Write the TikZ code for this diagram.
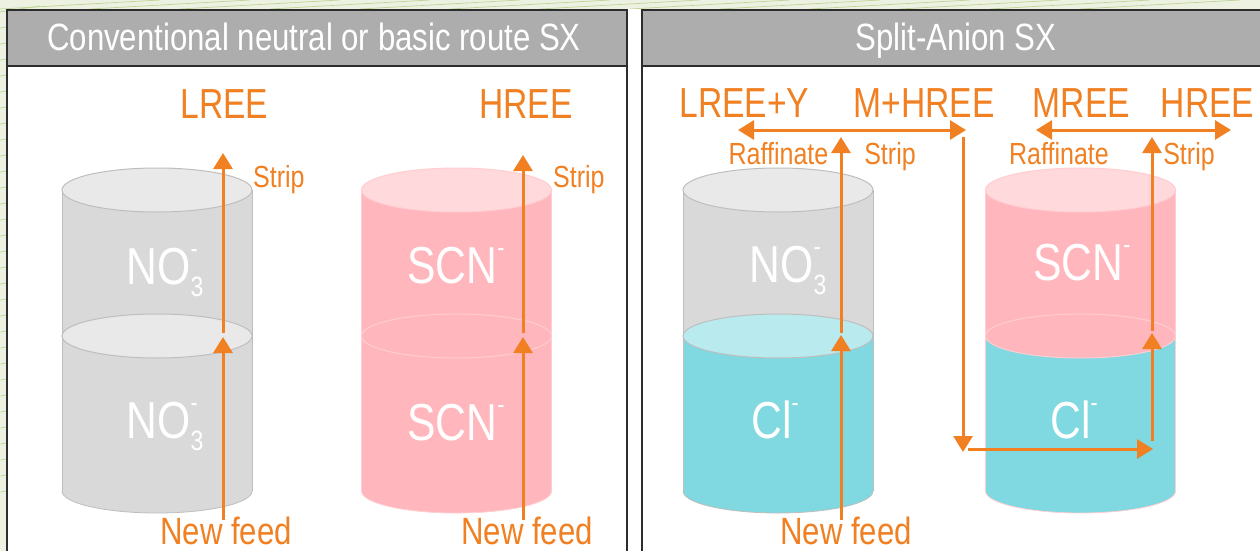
\documentclass[tikz,border=0pt]{standalone}
\usepackage{fontspec}
\setmainfont{Liberation Sans}[FakeStretch=0.82]
\newfontfamily\bigfam{Liberation Sans}[FakeStretch=0.80]
\usetikzlibrary{arrows.meta}
\definecolor{org}{RGB}{240,128,34}
\definecolor{hdr}{RGB}{172,173,172}
\definecolor{frame}{RGB}{45,45,45}
\definecolor{bgpale}{RGB}{236,241,226}
\definecolor{bgline}{RGB}{190,212,150}
\definecolor{grybody}{RGB}{217,217,217}
\definecolor{grytop}{RGB}{233,233,233}
\definecolor{gryedge}{RGB}{190,190,190}
\definecolor{pnkbody}{RGB}{255,183,189}
\definecolor{pnktop}{RGB}{255,217,220}
\definecolor{pnkedge}{RGB}{255,205,210}
\definecolor{tealbody}{RGB}{128,216,224}
\definecolor{tealtop}{RGB}{184,234,238}
\newcommand\mycyl[9]{%
  \fill[#7] (#1-95,#3) -- (#1-95,#4) arc[start angle=180,end angle=360,x radius=95pt,y radius=22pt] -- (#1+95,#3) -- cycle;
  \draw[#9,line width=0.8pt] (#1-95,#4) arc[start angle=180,end angle=360,x radius=95pt,y radius=22pt];
  \fill[#5] (#1-95,#2) -- (#1-95,#3) arc[start angle=180,end angle=360,x radius=95pt,y radius=22pt] -- (#1+95,#2) -- cycle;
  \draw[#9,line width=0.8pt] (#1-95,#2) -- (#1-95,#4) (#1+95,#2) -- (#1+95,#4);
  \filldraw[fill=#8,draw=#9,line width=1pt] (#1,#3) ellipse[x radius=95pt,y radius=22pt];
  \filldraw[fill=#6,draw=#9,line width=1pt] (#1,#2) ellipse[x radius=95pt,y radius=22pt];
}
\newcommand\ionss[2]{\makebox[0pt][l]{\raisebox{27pt}{\fontsize{26}{26}\selectfont #2}}\raisebox{-12pt}{\fontsize{28}{28}\selectfont #1}}
\newcommand\ionsp[1]{\raisebox{27pt}{\fontsize{26}{26}\selectfont #1}}
\tikzset{
  hdrtext/.style={text=white,font=\fontsize{38}{38}\selectfont,inner sep=0pt,anchor=base},
  bigtext/.style={text=org,font=\bigfam\fontsize{42}{42}\selectfont,inner sep=0pt,anchor=base},
  smalltext/.style={text=org,font=\fontsize{30.5}{30.5}\selectfont,inner sep=0pt,anchor=base},
  feedtext/.style={text=org,font=\fontsize{38}{38}\selectfont,inner sep=0pt,anchor=base},
  cyltext/.style={text=white,font=\fontsize{52}{52}\selectfont,inner sep=0pt,anchor=base},
  flow/.style={draw=org,line width=3pt,-{Triangle[width=19pt,length=16pt]}},
  bothflow/.style={draw=org,line width=3pt,{Triangle[width=19pt,length=16pt]}-{Triangle[width=19pt,length=16pt]}},
  panel/.style={draw=frame,line width=2.5pt,fill=white},
}
\begin{document}
\begin{tikzpicture}[x=1pt,y=-1pt]
\useasboundingbox (0,0) rectangle (1260,551);
% background
\fill[bgpale] (0,0) rectangle (1260,551);
\foreach \i in {0,...,30}{
  \draw[bgline,line width=0.7pt] (0,{12+\i*16}) -- (40,{6+\i*16});
}
\foreach \i in {0,...,12}{
  \draw[bgline,line width=0.7pt] ({\i*90},9) -- ({\i*90+160},0);
}
\fill[white] (628,9) rectangle (641,551);
% panels
\draw[panel] (7,10) rectangle (627,580);
\fill[hdr] (8.25,11.25) rectangle (625.75,66);
\draw[frame,line width=2.5pt] (7,66) -- (627,66);
\draw[panel] (642,10) rectangle (1280,580);
\fill[hdr] (643.25,11.25) rectangle (1270,66);
\draw[frame,line width=2.5pt] (642,66) -- (1270,66);
\node[hdrtext] (h1) at (314,51) {Conventional neutral or basic route SX};
\node[hdrtext] (h2) at (956,51) {Split-Anion SX};
% cylinders
\mycyl{157}{190}{336}{491}{grybody}{grytop}{grybody}{grytop}{gryedge}
\mycyl{456.5}{190}{336}{491}{pnkbody}{pnktop}{pnkbody}{pnkbody}{pnkedge}
\mycyl{778}{190}{336}{491}{grybody}{grytop}{tealbody}{tealtop}{gryedge}
\mycyl{1080.5}{190}{336}{491}{pnkbody}{pnktop}{tealbody}{pnkbody}{pnkedge}
% cylinder labels
\node[cyltext] (c1a) at (165,284) {NO\ionss{3}{-}};
\node[cyltext] (c1b) at (165,438) {NO\ionss{3}{-}};
\node[cyltext] (c2a) at (456,283) {SCN\ionsp{-}};
\node[cyltext] (c2b) at (456,440) {SCN\ionsp{-}};
\node[cyltext] (c3a) at (788,282) {NO\ionss{3}{-}};
\node[cyltext] (c3b) at (775,438) {Cl\ionsp{-}};
\node[cyltext] (c4a) at (1082,280) {SCN\ionsp{-}};
\node[cyltext] (c4b) at (1074,438) {Cl\ionsp{-}};
% panel 1 labels
\node[bigtext] (lree1) at (224.5,118) {LREE};
\node[bigtext] (hree1) at (526,118) {HREE};
\node[smalltext,anchor=base west] (strip1) at (253,187) {Strip};
\node[smalltext,anchor=base west] (strip2) at (553,187) {Strip};
\node[feedtext] (feed1) at (226,544) {New feed};
\node[feedtext] (feed2) at (527,544) {New feed};
% panel 2 labels
\node[bigtext] (lreey) at (744.5,117) {LREE+Y};
\node[bigtext] (mhree) at (924,117) {M+HREE};
\node[bigtext] (mree) at (1081.5,117) {MREE};
\node[bigtext] (hree2) at (1207.5,117) {HREE};
\node[smalltext] (raf1) at (778.5,164) {Raffinate};
\node[smalltext] (strip3) at (890,164) {Strip};
\node[smalltext] (raf2) at (1059,164) {Raffinate};
\node[smalltext] (strip4) at (1189,164) {Strip};
\node[feedtext] (feed3) at (846,544) {New feed};
% connector points
\coordinate (a1s) at (223,520); \coordinate (a1m) at (223,337);
\coordinate (a1u) at (223,333); \coordinate (a1t) at (223,153);
\coordinate (a2s) at (523,520); \coordinate (a2m) at (523,337);
\coordinate (a2u) at (523,333); \coordinate (a2t) at (523,155);
\coordinate (a3s) at (841,520); \coordinate (a3m) at (841,335);
\coordinate (a3u) at (841,333); \coordinate (a3t) at (841,137);
\coordinate (d1l) at (738,130); \coordinate (d1r) at (966,130);
\coordinate (dn1) at (963,137); \coordinate (dn2) at (963,452);
\coordinate (hz1) at (968,449); \coordinate (hz2) at (1153,449);
\coordinate (b1s) at (1152,441); \coordinate (b1m) at (1152,333);
\coordinate (b1u) at (1152,331); \coordinate (b1t) at (1152,137);
\coordinate (d2l) at (1036,130); \coordinate (d2r) at (1231,130);
% arrows
\draw[flow] (a1s) -- (a1m);
\draw[flow] (a1u) -- (a1t);
\draw[flow] (a2s) -- (a2m);
\draw[flow] (a2u) -- (a2t);
\draw[flow] (a3s) -- (a3m);
\draw[flow] (a3u) -- (a3t);
\draw[bothflow] (d1l) -- (d1r);
\draw[flow] (dn1) -- (dn2);
\draw[flow] (hz1) -- (hz2);
\draw[flow] (b1s) -- (b1m);
\draw[flow] (b1u) -- (b1t);
\draw[bothflow] (d2l) -- (d2r);
\end{tikzpicture}
\end{document}
